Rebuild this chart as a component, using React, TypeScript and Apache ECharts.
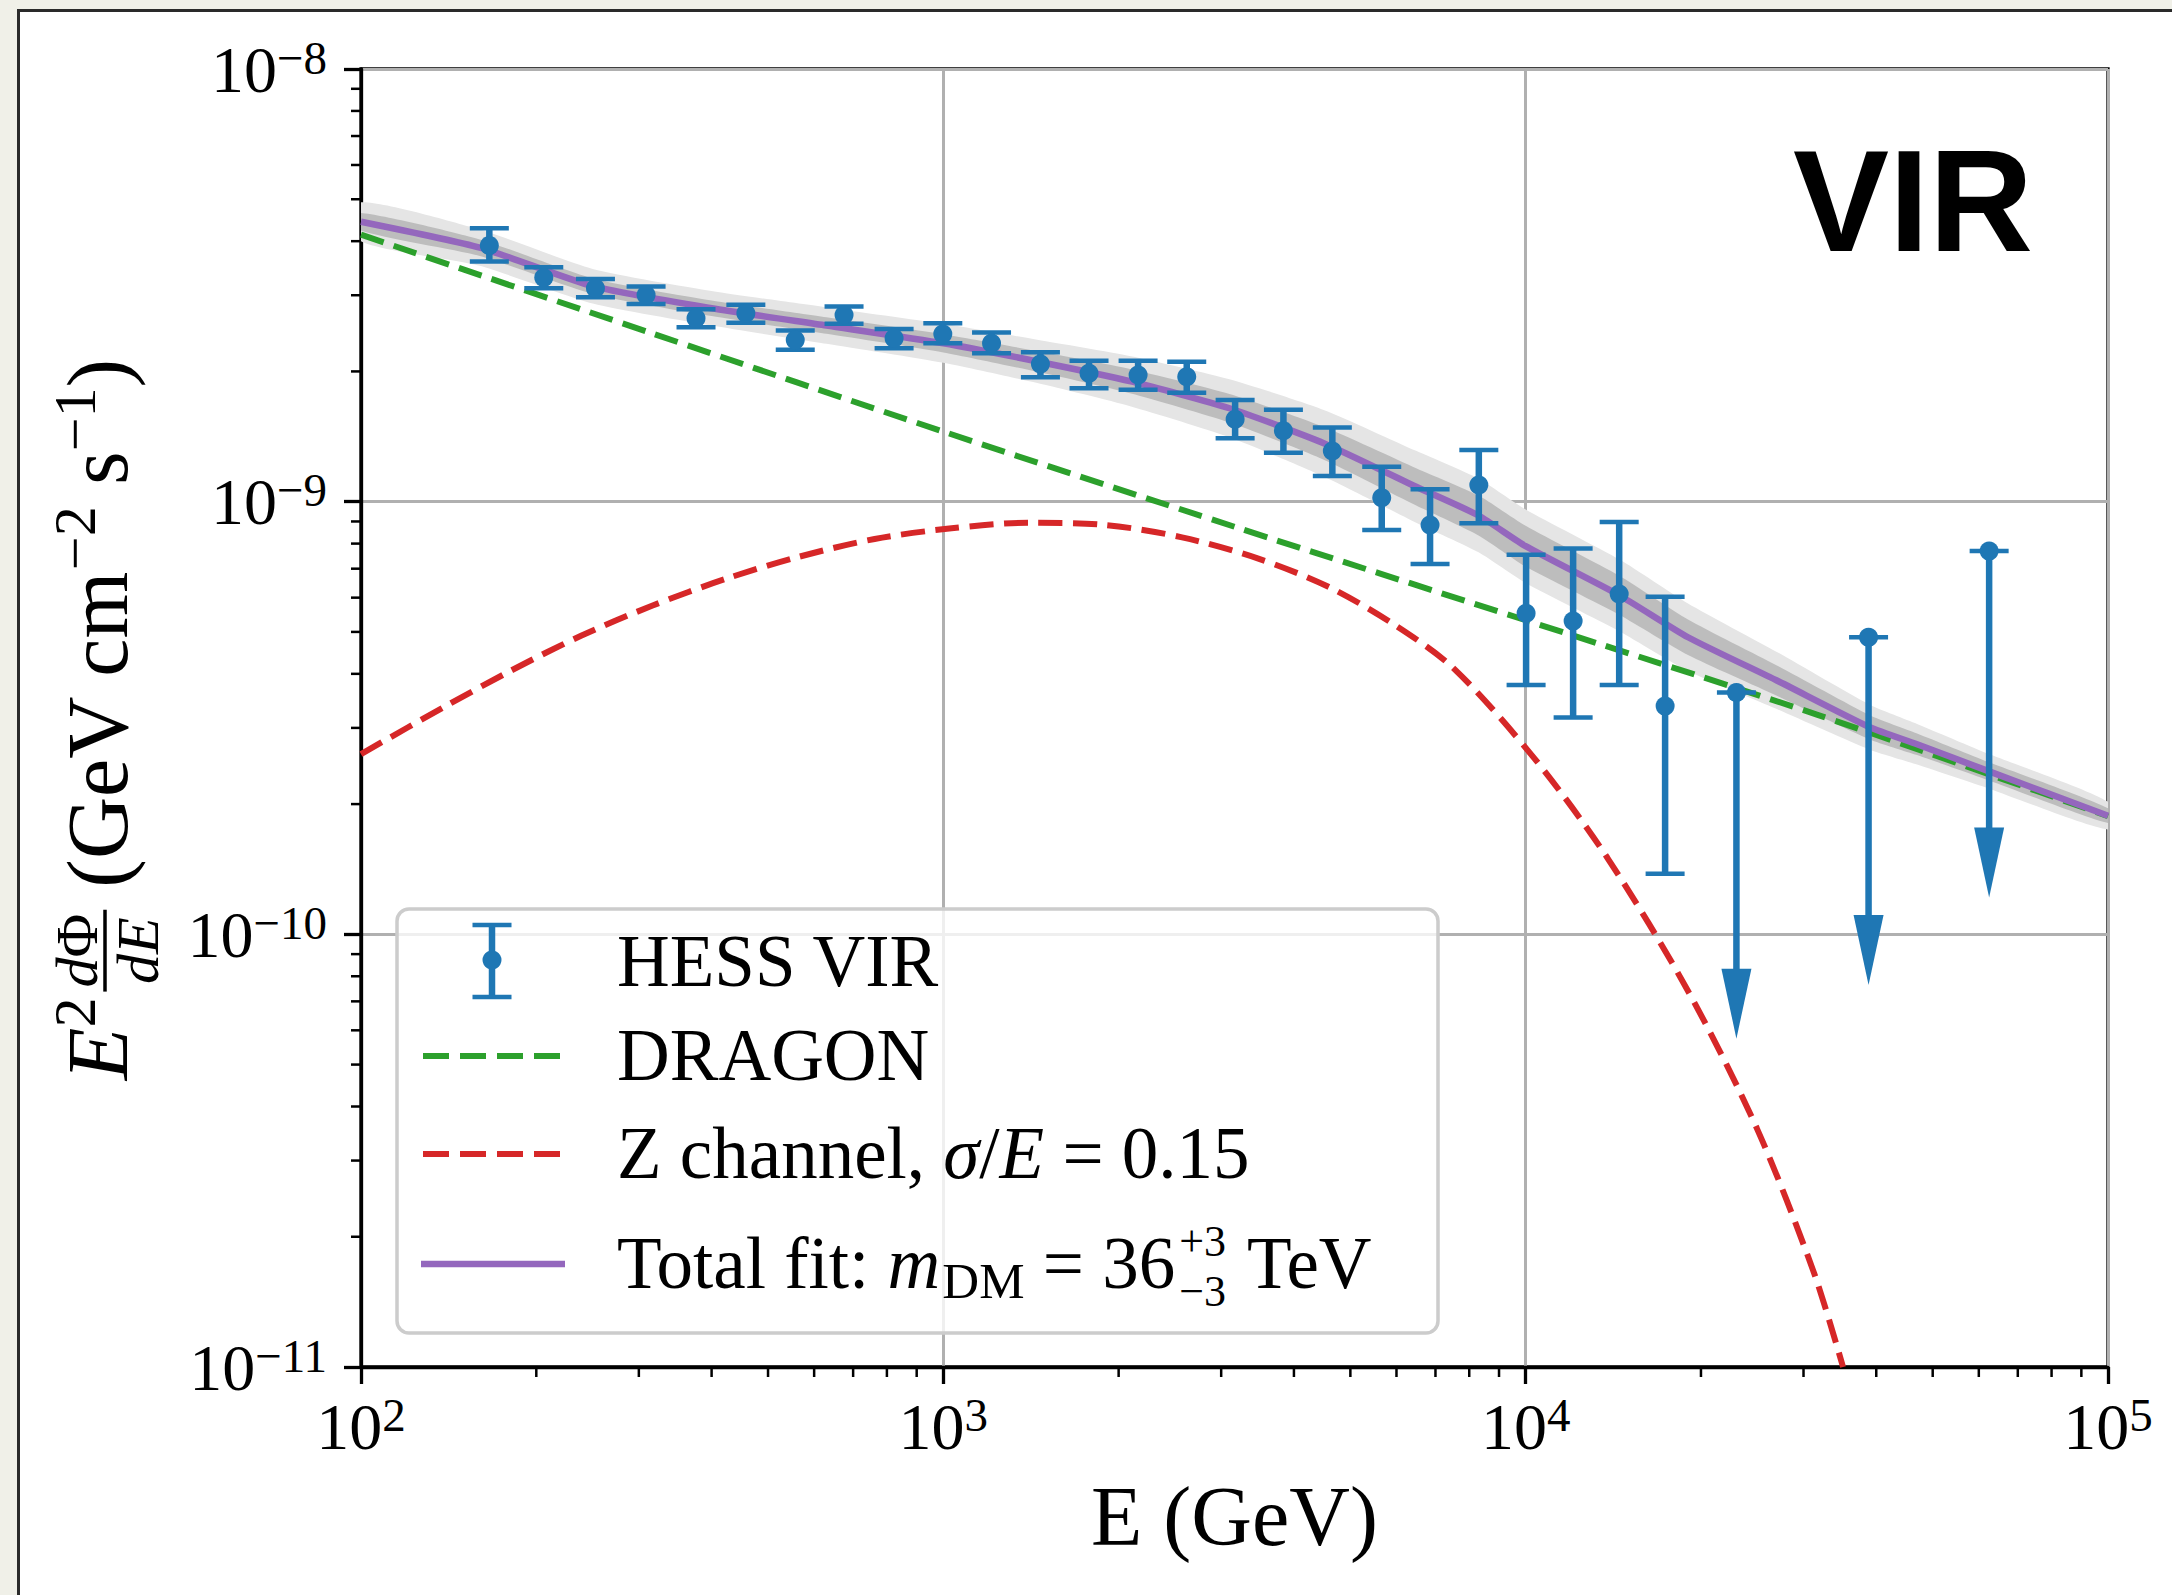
import React, { useEffect, useRef } from 'react';
import * as echarts from 'echarts';

const SERIF = '"Liberation Serif", "DejaVu Serif", serif';
const SANS = '"Liberation Sans", "DejaVu Sans", sans-serif';
const BLUE = '#1f77b4';
const GREEN = '#2ca02c';
const RED = '#d62728';
const PURPLE = '#9467bd';

// ---- axes ----
const xRange = [100, 100000];
const yRange = [1e-11, 1e-8];
const xMinorTicks = [200, 300, 400, 500, 600, 700, 800, 900, 2000, 3000, 4000, 5000, 6000, 7000, 8000, 9000, 20000, 30000, 40000, 50000, 60000, 70000, 80000, 90000];
const yMinorTicks = [2e-11, 3e-11, 4e-11, 5e-11, 6e-11, 7e-11, 8e-11, 9e-11, 2e-10, 3e-10, 4e-10, 5e-10, 6e-10, 7e-10, 8e-10, 9e-10, 2e-9, 3e-9, 4e-9, 5e-9, 6e-9, 7e-9, 8e-9, 9e-9];

// ---- HESS VIR flux points (GeV, GeV cm^-2 s^-1) ----
const hessE = [166.1, 206, 252.7, 308.7, 376.1, 458, 556.8, 675.3, 823.1, 997.9, 1210, 1468, 1779, 2160, 2618, 3170, 3837, 4656, 5660, 6852, 8309, 10017, 12064, 14474, 17356];
const hessF = [3.907e-9, 3.295e-9, 3.113e-9, 3.005e-9, 2.655e-9, 2.726e-9, 2.365e-9, 2.702e-9, 2.386e-9, 2.441e-9, 2.324e-9, 2.081e-9, 1.981e-9, 1.963e-9, 1.945e-9, 1.55e-9, 1.459e-9, 1.31e-9, 1.021e-9, 8.83e-10, 1.093e-9, 5.52e-10, 5.3e-10, 6.12e-10, 3.37e-10];
const hessHi = [4.286e-9, 3.483e-9, 3.272e-9, 3.141e-9, 2.785e-9, 2.85e-9, 2.485e-9, 2.824e-9, 2.507e-9, 2.585e-9, 2.459e-9, 2.215e-9, 2.118e-9, 2.118e-9, 2.107e-9, 1.718e-9, 1.63e-9, 1.483e-9, 1.205e-9, 1.068e-9, 1.317e-9, 7.54e-10, 7.79e-10, 8.97e-10, 6.03e-10];
const hessLo = [3.589e-9, 3.113e-9, 2.968e-9, 2.865e-9, 2.53e-9, 2.593e-9, 2.243e-9, 2.576e-9, 2.263e-9, 2.324e-9, 2.203e-9, 1.939e-9, 1.829e-9, 1.813e-9, 1.786e-9, 1.401e-9, 1.298e-9, 1.147e-9, 8.6e-10, 7.18e-10, 8.91e-10, 3.77e-10, 3.17e-10, 3.77e-10, 1.38e-10];

// upper limits
const ulE = [23010, 38800, 62500];
const ulF = [3.62e-10, 4.86e-10, 7.69e-10];
const ulEnd = [5.74e-11, 7.64e-11, 1.216e-10];

// ---- Total fit with 1 sigma / 2 sigma bands (half widths in dex) ----
const fitE = [100, 160, 250, 400, 630, 1000, 1450, 2100, 3100, 4500, 6500, 8300, 10000, 14500, 19000, 27000, 39000, 47000, 62500, 100000];
const fitF = [4.436e-9, 3.864e-9, 3.148e-9, 2.799e-9, 2.553e-9, 2.323e-9, 2.109e-9, 1.897e-9, 1.644e-9, 1.365e-9, 1.081e-9, 9.29e-10, 7.89e-10, 6.07e-10, 4.86e-10, 3.86e-10, 3.01e-10, 2.75e-10, 2.38e-10, 1.88e-10];
const bandOuterDex = [0.045, 0.042, 0.04, 0.04, 0.042, 0.045, 0.05, 0.058, 0.067, 0.077, 0.083, 0.085, 0.085, 0.083, 0.078, 0.066, 0.052, 0.047, 0.04, 0.032];
const bandInnerDex = [0.02, 0.019, 0.018, 0.018, 0.019, 0.021, 0.024, 0.028, 0.033, 0.038, 0.043, 0.046, 0.047, 0.045, 0.041, 0.035, 0.028, 0.025, 0.021, 0.017];

// ---- DRAGON background ----
const dragonE = [100, 316.2, 1000, 3162, 10000, 31620, 100000];
const dragonF = [4.14e-9, 2.449e-9, 1.452e-9, 8.75e-10, 5.32e-10, 3.22e-10, 1.875e-10];

// ---- Z channel, sigma/E = 0.15 ----
const zE = [100, 138.5, 181.8, 238.7, 316, 422.3, 565.6, 762.1, 1033, 1402, 1898, 2570, 3465, 4585, 5961, 7522, 10375, 13812, 18980, 24946, 31196, 35075];
const zF = [2.61e-10, 3.346e-10, 4.082e-10, 4.899e-10, 5.746e-10, 6.627e-10, 7.462e-10, 8.2e-10, 8.679e-10, 8.941e-10, 8.833e-10, 8.27e-10, 7.394e-10, 6.358e-10, 5.187e-10, 4.119e-10, 2.541e-10, 1.503e-10, 7.418e-11, 3.561e-11, 1.665e-11, 1.0e-11];

// ---- text layout helpers ----
let _ctx: CanvasRenderingContext2D | null = null;
function textW(t: string, size: number, it?: boolean, fam?: string) {
  if (!_ctx) _ctx = document.createElement('canvas').getContext('2d');
  _ctx!.font = (it ? 'italic ' : '') + size + 'px ' + (fam || SERIF);
  return _ctx!.measureText(t).width;
}
const CENTRAL = 0.34;
type Run = { t: string; size: number; it?: boolean; dy?: number; fam?: string };
function txtStyle(text: string, size: number, it?: boolean, fam?: string, extra: any = {}) {
  return {
    text, fontSize: size, fontFamily: fam || SERIF, fontStyle: it ? 'italic' : 'normal',
    fill: '#000', align: 'left', textAlign: 'left', verticalAlign: 'middle', textVerticalAlign: 'middle', ...extra,
  };
}
function runEl(r: Run, x: number, z = 100) {
  return { type: 'text', x, y: (r.dy || 0) - CENTRAL * r.size, z, style: txtStyle(r.t, r.size, r.it, r.fam) };
}
function runsW(rs: Run[]) {
  return rs.reduce((s, r) => s + textW(r.t, r.size, r.it, r.fam), 0);
}
function layout(items: any[], z = 100) {
  const els: any[] = [];
  let x = 0;
  for (const it of items) {
    if (it.gap !== undefined) { x += it.gap; continue; }
    if (it.multi) {
      // stacked super/subscript rendered as one two-line text
      const lines = it.multi as string[];
      const w = Math.max(...lines.map((l) => textW(l, it.size)));
      els.push({ type: 'text', x, y: it.cy, z, style: txtStyle(lines.join('\n'), it.size, false, undefined, { lineHeight: it.lh }) });
      x += w; continue;
    }
    if (it.num) {
      const wn = runsW(it.num), wd = runsW(it.den);
      const w = Math.max(wn, wd) + 2 * it.pad;
      let xn = x + (w - wn) / 2;
      for (const r of it.num) { els.push(runEl(r, xn, z)); xn += textW(r.t, r.size, r.it, r.fam); }
      let xd = x + (w - wd) / 2;
      for (const r of it.den) { els.push(runEl(r, xd, z)); xd += textW(r.t, r.size, r.it, r.fam); }
      els.push({ type: 'line', z, shape: { x1: x, y1: it.barDy, x2: x + w, y2: it.barDy }, style: { stroke: '#000', lineWidth: it.lw } });
      x += w; continue;
    }
    els.push(runEl(it, x, z));
    x += textW(it.t, it.size, it.it, it.fam);
  }
  return { els, width: x };
}

function tickFmt(v: number) {
  const ex = Math.round(Math.log10(v));
  const s = ex < 0 ? '\u2212' + (-ex) : String(ex);
  return '{b|10}{s|' + s + '}';
}
const tickRich = {
  b: { fontSize: 66, lineHeight: 70, fontFamily: SERIF, color: '#000' },
  s: { fontSize: 47, lineHeight: 36, fontFamily: SERIF, color: '#000', verticalAlign: 'top' },
};

function buildOption() {
  const LS = 73; // legend font size
  const SS = 51; // legend script size
  const M = 86, m = 60;
  const yl = layout([
    { t: 'E', size: M, it: true },
    { t: '2', size: m, dy: -32 },
    { gap: 6 },
    {
      num: [{ t: 'd', size: m, it: true, dy: -30 }, { t: '\u03A6', size: m, dy: -30 }],
      den: [{ t: 'd', size: m, it: true, dy: 31 }, { t: 'E', size: m, it: true, dy: 31 }],
      barDy: -22, pad: 4, lw: 3.5,
    },
    { gap: 22 },
    { t: '(GeV cm', size: M },
    { t: '\u22122', size: m, dy: -32 },
    { t: ' s', size: M },
    { t: '\u22121', size: m, dy: -32 },
    { t: ')', size: M },
  ]);
  const L1 = layout([{ t: 'HESS VIR', size: LS }], 101);
  const L2 = layout([{ t: 'DRAGON', size: LS }], 101);
  const L3 = layout([
    { t: 'Z channel, ', size: LS }, { t: '\u03C3', size: LS, it: true }, { t: '/', size: LS },
    { t: 'E', size: LS, it: true }, { t: ' = 0.15', size: LS },
  ], 101);
  const L4 = layout([
    { t: 'Total fit: ', size: LS }, { t: 'm', size: LS, it: true }, { gap: 2 }, { t: 'DM', size: SS, dy: 10 },
    { t: ' = 36', size: LS },
    { gap: 4 },
    { multi: ['+3', '\u22123'], size: 44, lh: 50, cy: -22 },
    { gap: 4 },
    { t: ' TeV', size: LS },
  ], 101);

  const legendX = 617;
  const graphic: any[] = [
    {
      type: 'group', x: 127, y: 719.5 + yl.width / 2, rotation: Math.PI / 2, children: yl.els,
    },
    {
      type: 'text', x: 1793, y: 201, z: 100,
      style: txtStyle('VIR', 144, false, SANS, { fontWeight: 'bold' }),
    },
    {
      type: 'rect', z: 100, shape: { x: 397, y: 909, width: 1041, height: 424, r: 12 },
      style: { fill: 'rgba(255,255,255,0.8)', stroke: '#cccccc', lineWidth: 3.5 },
    },
    // legend handles
    { type: 'line', z: 101, shape: { x1: 492, y1: 925, x2: 492, y2: 997 }, style: { stroke: BLUE, lineWidth: 6.5 } },
    { type: 'line', z: 101, shape: { x1: 472.5, y1: 925, x2: 511.5, y2: 925 }, style: { stroke: BLUE, lineWidth: 4.5 } },
    { type: 'line', z: 101, shape: { x1: 472.5, y1: 997, x2: 511.5, y2: 997 }, style: { stroke: BLUE, lineWidth: 4.5 } },
    { type: 'circle', z: 101, shape: { cx: 492, cy: 960, r: 9.5 }, style: { fill: BLUE } },
    { type: 'line', z: 101, shape: { x1: 423, y1: 1056, x2: 563, y2: 1056 }, style: { stroke: GREEN, lineWidth: 6, lineDash: [26, 11] } },
    { type: 'line', z: 101, shape: { x1: 423, y1: 1154, x2: 563, y2: 1154 }, style: { stroke: RED, lineWidth: 6, lineDash: [26, 11] } },
    { type: 'line', z: 101, shape: { x1: 421, y1: 1264, x2: 565, y2: 1264 }, style: { stroke: PURPLE, lineWidth: 6.5 } },
    { type: 'group', x: legendX, y: 986, children: L1.els },
    { type: 'group', x: legendX, y: 1080, children: L2.els },
    { type: 'group', x: legendX, y: 1178, children: L3.els },
    { type: 'group', x: legendX, y: 1288, children: L4.els },
  ];

  const axisCommon = {
    type: 'log', logBase: 10,
    axisLine: { show: true, lineStyle: { color: '#000', width: 3.3 } },
    axisTick: { show: true, inside: false, length: 17, lineStyle: { color: '#000', width: 3.3 } },
    splitLine: { show: true, lineStyle: { color: '#b0b0b0', width: 3 } },
    minorTick: { show: false },
  };

  return {
    animation: false,
    textStyle: { fontFamily: SERIF },
    grid: { left: 361, top: 69, width: 1747, height: 1298, show: true, borderColor: '#000', borderWidth: 3.3, backgroundColor: 'transparent', containLabel: false },
    xAxis: {
      ...axisCommon,
      min: xRange[0], max: xRange[1],
      axisLabel: { formatter: tickFmt, rich: tickRich, margin: 24 },
      name: 'E (GeV)', nameLocation: 'middle', nameGap: 149,
      nameTextStyle: { fontSize: 84, fontFamily: SERIF, color: '#000', verticalAlign: 'middle' },
    },
    yAxis: {
      ...axisCommon,
      min: yRange[0], max: yRange[1],
      axisLabel: { formatter: tickFmt, rich: tickRich, margin: 34 },
    },
    graphic,
    series: [
      {
        type: 'custom', name: 'bands', silent: true, clip: true, z: 1,
        data: [[1000, 1e-9], [1000, 1e-9]],
        renderItem: (params: any, api: any) => {
          const k = params.dataIndex;
          const w = k === 0 ? bandOuterDex : bandInnerDex;
          const up = fitE.map((e, i) => api.coord([e, fitF[i] * Math.pow(10, w[i])]));
          const dn = fitE.map((e, i) => api.coord([e, fitF[i] * Math.pow(10, -w[i])])).reverse();
          return { type: 'polygon', shape: { points: up.concat(dn), smooth: 0.2 }, style: { fill: k === 0 ? '#e5e5e5' : '#bdbdbd' } };
        },
      },
      {
        type: 'line', name: 'DRAGON', showSymbol: false, z: 3, smooth: 0.3,
        data: dragonE.map((e, i) => [e, dragonF[i]]),
        lineStyle: { color: GREEN, width: 6, type: [24, 10.5] },
      },
      {
        type: 'line', name: 'Z channel', showSymbol: false, z: 3, smooth: 0.3,
        data: zE.map((e, i) => [e, zF[i]]),
        lineStyle: { color: RED, width: 6, type: [24, 10.5] },
      },
      {
        type: 'line', name: 'Total fit', showSymbol: false, z: 4, smooth: 0.2,
        data: fitE.map((e, i) => [e, fitF[i]]),
        lineStyle: { color: PURPLE, width: 6.5 },
      },
      {
        type: 'custom', name: 'HESS VIR', z: 5, clip: false,
        data: hessE.map((e, i) => [e, hessF[i], hessHi[i], hessLo[i]]),
        encode: { x: 0, y: 1 },
        renderItem: (params: any, api: any) => {
          const e = api.value(0);
          const p = api.coord([e, api.value(1)]);
          const ph = api.coord([e, api.value(2)]);
          const pl = api.coord([e, api.value(3)]);
          return {
            type: 'group', children: [
              { type: 'line', shape: { x1: p[0], y1: ph[1], x2: p[0], y2: pl[1] }, style: { stroke: BLUE, lineWidth: 6.5 } },
              { type: 'line', shape: { x1: p[0] - 19.5, y1: ph[1], x2: p[0] + 19.5, y2: ph[1] }, style: { stroke: BLUE, lineWidth: 4.5 } },
              { type: 'line', shape: { x1: p[0] - 19.5, y1: pl[1], x2: p[0] + 19.5, y2: pl[1] }, style: { stroke: BLUE, lineWidth: 4.5 } },
              { type: 'circle', shape: { cx: p[0], cy: p[1], r: 9.5 }, style: { fill: BLUE } },
            ],
          };
        },
      },
      {
        type: 'custom', name: 'HESS VIR UL', z: 5, clip: false,
        data: ulE.map((e, i) => [e, ulF[i], ulEnd[i]]),
        encode: { x: 0, y: 1 },
        renderItem: (params: any, api: any) => {
          const e = api.value(0);
          const p = api.coord([e, api.value(1)]);
          const pt = api.coord([e, api.value(2)]);
          const headLen = 70, headHalf = 15;
          return {
            type: 'group', children: [
              { type: 'line', shape: { x1: p[0], y1: p[1], x2: p[0], y2: pt[1] - headLen + 2 }, style: { stroke: BLUE, lineWidth: 6.5 } },
              { type: 'line', shape: { x1: p[0] - 19.5, y1: p[1], x2: p[0] + 19.5, y2: p[1] }, style: { stroke: BLUE, lineWidth: 4.5 } },
              { type: 'polygon', shape: { points: [[p[0] - headHalf, pt[1] - headLen], [p[0] + headHalf, pt[1] - headLen], [p[0], pt[1]]] }, style: { fill: BLUE } },
              { type: 'circle', shape: { cx: p[0], cy: p[1], r: 9.5 }, style: { fill: BLUE } },
            ],
          };
        },
      },
      {
        type: 'custom', name: 'xMinor', silent: true, clip: false, z: 6,
        data: xMinorTicks.map((v) => [v, yRange[0]]),
        renderItem: (params: any, api: any) => {
          const c = api.coord([api.value(0), api.value(1)]);
          return { type: 'line', shape: { x1: c[0], y1: c[1], x2: c[0], y2: c[1] + 10 }, style: { stroke: '#000', lineWidth: 2.5 } };
        },
      },
      {
        type: 'custom', name: 'yMinor', silent: true, clip: false, z: 6,
        data: yMinorTicks.map((v) => [xRange[0], v]),
        renderItem: (params: any, api: any) => {
          const c = api.coord([api.value(0), api.value(1)]);
          return { type: 'line', shape: { x1: c[0], y1: c[1], x2: c[0] - 10, y2: c[1] }, style: { stroke: '#000', lineWidth: 2.5 } };
        },
      },
    ],
  };
}

export default function App() {
  const ref = useRef<HTMLDivElement>(null);
  useEffect(() => {
    const chart = echarts.init(ref.current!, undefined, { renderer: 'svg', width: 2172, height: 1595 });
    chart.setOption(buildOption() as any);
    return () => chart.dispose();
  }, []);
  return (
    <div style={{ position: 'fixed', left: 0, top: 0, width: 2172, height: 1595, background: '#f0f0e8', overflow: 'hidden' }}>
      <div style={{ position: 'absolute', left: 17, top: 9, width: 2300, height: 1800, background: '#ffffff', border: '3px solid #2a2a2a' }} />
      <div ref={ref} style={{ position: 'absolute', left: 0, top: 0, width: 2172, height: 1595 }} />
    </div>
  );
}
